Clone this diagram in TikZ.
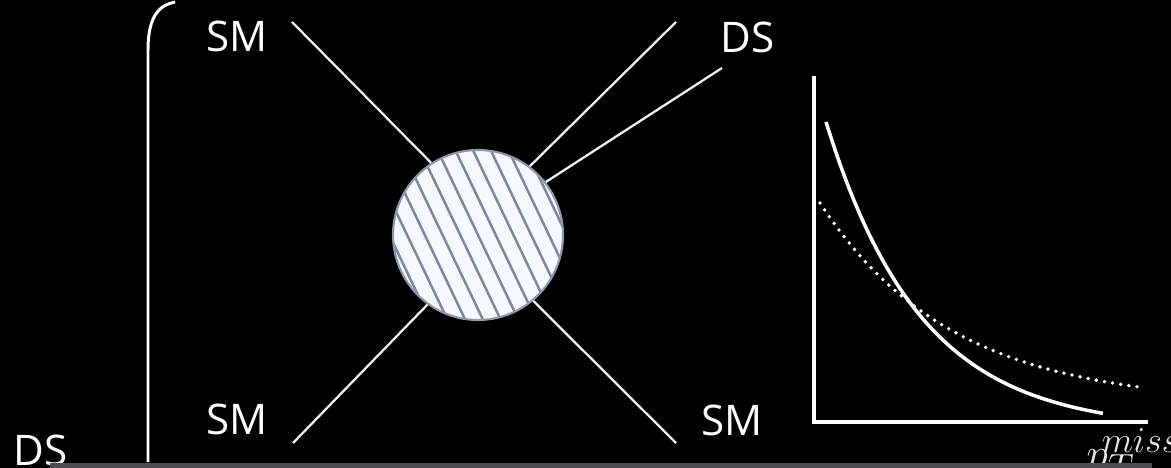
\documentclass[tikz,border=0pt]{standalone}
\usepackage{fontspec}
\setsansfont{Open Sans}
\usetikzlibrary{calc}
\definecolor{bandgray}{HTML}{504A52}
\definecolor{blobfill}{HTML}{F5F8FD}
\definecolor{blobedge}{HTML}{8D98AC}
\definecolor{hatchblue}{HTML}{7C879C}
\tikzset{
	partlabel/.style={text=white, font=\sffamily\fontsize{24}{28}\selectfont, inner sep=0pt, anchor=base west},
	legline/.style={draw=white!94!black, line width=1.3pt},
	blob/.style={circle, draw=blobedge, line width=1.2pt, fill=blobfill, minimum size=3.4cm, inner sep=0pt,
		path picture={
			\coordinate (hc) at (path picture bounding box.center);
			\foreach \k in {-6,...,6}
				\draw[hatchblue, line width=1.4pt] ($(hc)+(25.5:\k*0.32)+(115.5:2)$) -- ($(hc)+(25.5:\k*0.32)+(-64.5:2)$);
		}},
	axisline/.style={draw=white, line width=2.3pt},
	fitcurve/.style={draw=white, line width=2pt},
	dotcurve/.style={draw=white, line width=2.2pt, line cap=round, dash pattern=on 0pt off 4.7pt},
}
\begin{document}
\begin{tikzpicture}
				\fill[black] (0,0) rectangle (23.42,-9.36);
				\useasboundingbox (0,0) rectangle (23.42,-9.36);
				% outer bracket
				\draw[white, line width=1.7pt] (2.96,-9.24) -- (2.96,-1.00) .. controls (2.96,-0.30) and (3.20,-0.10) .. (3.50,-0.04);
				% free ends of the legs
				\coordinate (tlend) at (5.84,-0.44);
				\coordinate (trend) at (13.52,-0.44);
				\coordinate (dsend) at (14.44,-1.36);
				\coordinate (blend) at (5.86,-8.86);
				\coordinate (brend) at (13.52,-8.86);
				\node[blob] (vtx) at (9.56,-4.70) {};
				\draw[legline] (tlend) -- (vtx.123);
				\draw[legline] (trend) -- (vtx.53);
				\draw[legline] (dsend) -- (vtx.38);
				\draw[legline] (blend) -- (vtx.234);
				\draw[legline] (brend) -- (vtx.310);
				\node[partlabel] (smtl) at (4.12,-1.04) {SM};
				\node[partlabel] (dstr) at (14.40,-1.06) {DS};
				\node[partlabel] (smbl) at (4.12,-8.68) {SM};
				\node[partlabel] (smbr) at (14.02,-8.70) {SM};
				\node[partlabel] (dsbl) at (0.26,-9.30) {DS};
				% spectrum sketch
				\draw[axisline] (16.28,-1.52) -- (16.28,-8.44) -- (22.96,-8.44);
				\draw[fitcurve] plot[domain=16.52:22.06, samples=60] (\x, {-8.60+6.16*exp(-(\x-16.52)/1.90)});
				\draw[dotcurve] plot[domain=16.40:22.82, samples=60] (\x, {-8.10+4.04*exp(-(\x-16.40)/2.64)});
				\node[partlabel, text=white!90!black, font=\fontsize{28}{32}\selectfont] (ptmiss) at (21.72,-9.36) {$p_T^{\!miss}$};
				% bottom strip
				\fill[bandgray] (1.00,-9.26) rectangle (23.04,-9.36);
			\end{tikzpicture}
\end{document}
